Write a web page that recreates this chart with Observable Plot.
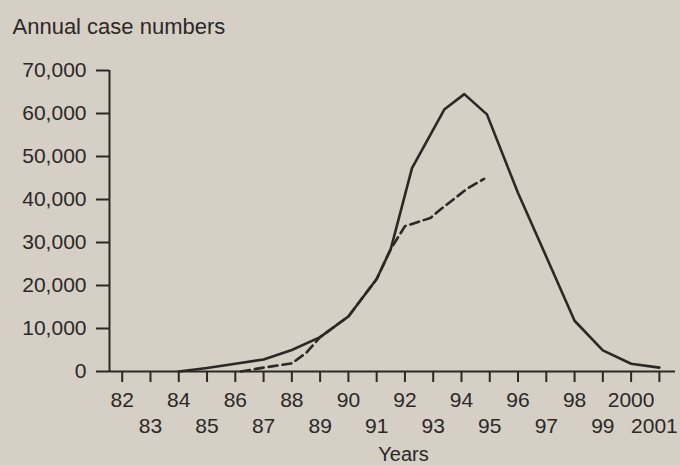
<!DOCTYPE html>
<html><head><meta charset="utf-8">
<script src="https://cdn.jsdelivr.net/npm/d3@7"></script>
<script src="https://cdn.jsdelivr.net/npm/@observablehq/plot@0.6"></script>
<style>
html,body{margin:0;padding:0;background:#d5cfc6;}
#chart{width:680px;height:465px;overflow:hidden}
</style></head><body><div id="chart"></div>
<script>
const titleText = "Annual case numbers";
const xLabel = "Years";
const solidYears = [1984, 1985, 1986, 1987, 1988, 1989, 1990, 1991, 1991.5, 1992.25, 1993.4, 1994.1, 1994.9, 1996, 1997, 1998, 1999, 2000, 2001];
const solidCases = [0, 800, 1800, 2800, 5000, 8000, 12800, 21500, 28500, 47300, 61000, 64500, 59800, 41500, 26700, 11800, 4900, 1800, 900];
const dashedYears = [1986.2, 1987, 1988, 1988.5, 1989, 1990, 1991, 1991.5, 1992, 1992.9, 1993.2, 1994.2, 1994.8];
const dashedCases = [0, 900, 1900, 4300, 8000, 12800, 21500, 28500, 33800, 35700, 37400, 42500, 44800];
const yTicks = [0, 10000, 20000, 30000, 40000, 50000, 60000, 70000];
const allTickYears = [1982, 1983, 1984, 1985, 1986, 1987, 1988, 1989, 1990, 1991, 1992, 1993, 1994, 1995, 1996, 1997, 1998, 1999, 2000, 2001];
const evenTickYears = [1982, 1984, 1986, 1988, 1990, 1992, 1994, 1996, 1998, 2000];
const oddTickYears = [1983, 1985, 1987, 1989, 1991, 1993, 1995, 1997, 1999];
const lastTickYear = [2001];
const xDomain = [1981.55, 2001.57];
const yDomain = [0, 70000];

const ink = "#2c2825";
const solid = solidYears.map((year, i) => ({year, cases: solidCases[i]}));
const dashed = dashedYears.map((year, i) => ({year, cases: dashedCases[i]}));
const fmtYear = d => d >= 2000 ? String(d) : String(d).slice(2);

const chart = Plot.plot({
  width: 680, height: 465,
  marginLeft: 109, marginRight: 5, marginTop: 70, marginBottom: 94,
  style: {background: "transparent", fontFamily: "'Liberation Sans', Arial, sans-serif", fontSize: "21px", color: ink},
  x: {domain: xDomain, axis: null},
  y: {domain: yDomain, axis: null},
  marks: [
    Plot.axisY({ticks: yTicks, tickSize: 13, tickPadding: 10, tickFormat: d3.format(","), label: null, strokeWidth: 2, fontSize: 21}),
    Plot.axisX({ticks: allTickYears, tickSize: 11, tickFormat: () => "", label: null, strokeWidth: 2}),
    Plot.axisX({ticks: evenTickYears, tickSize: 0, tickPadding: 21, tickFormat: fmtYear, label: null, fontSize: 21}),
    Plot.axisX({ticks: oddTickYears, tickSize: 0, tickPadding: 47, tickFormat: fmtYear, label: null, fontSize: 21}),
    Plot.axisX({ticks: lastTickYear, tickSize: 0, tickPadding: 47, tickFormat: fmtYear, label: null, fontSize: 21, dx: -5}),
    Plot.ruleY([0], {stroke: ink, strokeWidth: 2}),
    Plot.ruleX([xDomain[0]], {stroke: ink, strokeWidth: 2}),
    Plot.line(solid, {x: "year", y: "cases", stroke: ink, strokeWidth: 2.6}),
    Plot.line(dashed, {x: "year", y: "cases", stroke: ink, strokeWidth: 2.6, strokeDasharray: "9,5"}),
    Plot.text([titleText], {frameAnchor: "top-left", lineAnchor: "top", textAnchor: "start", dx: -97, dy: -52, fontSize: 22, fill: ink}),
    Plot.text([xLabel], {frameAnchor: "bottom", lineAnchor: "top", dx: 11, dy: 75, fontSize: 20, fill: ink})
  ]
});
document.getElementById("chart").appendChild(chart);
</script></body></html>
